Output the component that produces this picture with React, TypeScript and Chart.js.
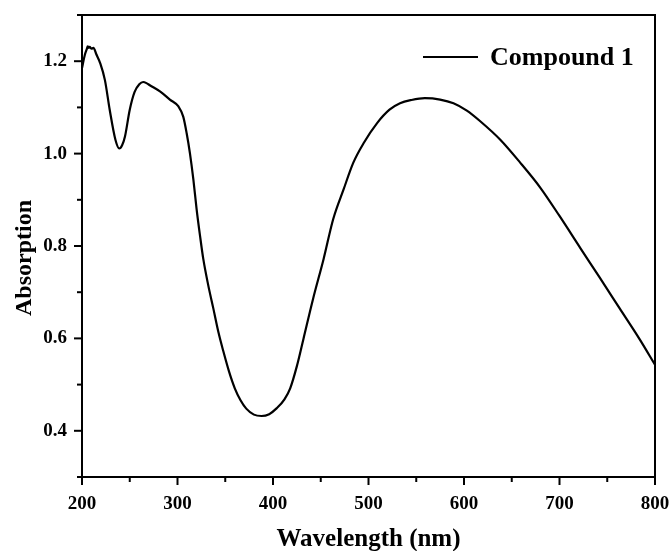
import { useEffect, useRef } from 'react';
import { Chart, registerables } from 'chart.js';

Chart.register(...registerables);

const seriesLabel = 'Compound 1';
const xTitle = 'Wavelength (nm)';
const yTitle = 'Absorption';

const wavelengths = [
  200, 203, 205, 206, 207, 208, 210, 212, 215, 219, 224, 229, 235, 239, 242, 245,
  250, 255, 260, 264, 268, 271, 282, 292, 301, 306, 309.6, 313, 316.6, 320, 323.6, 327,
  332, 337.5, 343, 348, 354, 360, 366, 372, 380, 388, 396, 404, 412, 418, 425, 432,
  442, 453, 463, 474, 484, 495, 509, 522, 533, 545, 559, 575, 589, 603, 617, 638,
  659, 680, 700, 722, 742, 763, 784, 800,
];
const absorption = [
  1.185, 1.214, 1.226, 1.232, 1.229, 1.231, 1.227, 1.229, 1.215, 1.196, 1.159, 1.095, 1.030, 1.011, 1.018, 1.037,
  1.095, 1.133, 1.150, 1.155, 1.152, 1.148, 1.134, 1.117, 1.102, 1.080, 1.044, 1.001, 0.944, 0.880, 0.822, 0.772,
  0.717, 0.665, 0.612, 0.572, 0.528, 0.492, 0.466, 0.448, 0.435, 0.432, 0.436, 0.449, 0.468, 0.492, 0.540, 0.600,
  0.686, 0.772, 0.858, 0.923, 0.980, 1.023, 1.066, 1.095, 1.109, 1.116, 1.120, 1.117, 1.109, 1.093, 1.070, 1.030,
  0.980, 0.926, 0.865, 0.795, 0.732, 0.665, 0.598, 0.543,
];

const xTickValues = [200, 250, 300, 350, 400, 450, 500, 550, 600, 650, 700, 750, 800];
const xTickLabels = ['200', '300', '400', '500', '600', '700', '800'];
const yTickValues = [0.3, 0.4, 0.5, 0.6, 0.7, 0.8, 0.9, 1.0, 1.1, 1.2, 1.3];
const yTickLabels = ['0.4', '0.6', '0.8', '1.0', '1.2'];

const FONT = '"Liberation Serif", "Times New Roman", Times, serif';

function seg(ctx: CanvasRenderingContext2D, x1: number, y1: number, x2: number, y2: number) {
  ctx.beginPath();
  ctx.moveTo(x1, y1);
  ctx.lineTo(x2, y2);
  ctx.stroke();
}

const decorPlugin = {
  id: 'decor',
  afterDraw(chart: any) {
    const { ctx } = chart;
    const xs = chart.scales.x;
    const ys = chart.scales.y;
    const left = Math.round(xs.getPixelForValue(200));
    const right = Math.round(xs.getPixelForValue(800));
    const top = Math.round(ys.getPixelForValue(1.3));
    const bottom = Math.round(ys.getPixelForValue(0.3));
    ctx.save();
    ctx.strokeStyle = '#000000';
    ctx.fillStyle = '#000000';
    ctx.lineWidth = 2;
    // frame
    seg(ctx, left - 1, top, right + 1, top);
    seg(ctx, right, top - 1, right, bottom + 1);
    seg(ctx, right + 1, bottom, left - 1, bottom);
    seg(ctx, left, bottom + 1, left, top - 1);
    // tick marks
    xs.ticks.forEach((t: any) => {
      const major = xTickLabels.includes(String(t.value));
      const px = xs.getPixelForValue(t.value);
      seg(ctx, px, bottom, px, bottom + (major ? 8 : 5));
    });
    ys.ticks.forEach((t: any) => {
      const major = yTickLabels.includes(Number(t.value).toFixed(1));
      const py = ys.getPixelForValue(t.value);
      seg(ctx, left, py, left - (major ? 8 : 5), py);
    });
    // axis titles
    ctx.textAlign = 'center';
    ctx.textBaseline = 'alphabetic';
    ctx.font = `bold 25px ${FONT}`;
    ctx.fillText(xTitle, (left + right) / 2, bottom + 69);
    ctx.font = `bold 24px ${FONT}`;
    ctx.save();
    ctx.translate(left - 51, (top + bottom) / 2 + 12);
    ctx.rotate(-Math.PI / 2);
    ctx.fillText(yTitle, 0, 0);
    ctx.restore();
    // legend
    const label = chart.data.datasets[0].label;
    seg(ctx, right - 232, top + 42, right - 177, top + 42);
    ctx.font = `bold 26px ${FONT}`;
    ctx.textAlign = 'left';
    ctx.fillText(label, right - 165, top + 50);
    ctx.restore();
  },
};

export default function App() {
  const canvasRef = useRef<HTMLCanvasElement | null>(null);

  useEffect(() => {
    document.body.style.margin = '0';
    document.body.style.overflow = 'hidden';
    if (!canvasRef.current) return;
    const chart = new Chart(canvasRef.current, {
      type: 'line',
      data: {
        datasets: [
          {
            label: seriesLabel,
            data: wavelengths.map((x, i) => ({ x, y: absorption[i] })),
            borderColor: '#000',
            borderWidth: 2.2,
            pointRadius: 0,
            fill: false,
            cubicInterpolationMode: 'monotone',
          },
        ],
      },
      options: {
        animation: false,
        responsive: false,
        maintainAspectRatio: false,
        layout: { padding: { top: 15, right: 16, left: 0, bottom: 0 } },
        plugins: { legend: { display: false }, tooltip: { enabled: false } },
        scales: {
          x: {
            type: 'linear',
            min: 200,
            max: 800,
            afterBuildTicks: (s: any) => {
              s.ticks = xTickValues.map((v) => ({ value: v }));
            },
            afterFit: (s: any) => {
              s.height = 74;
              s.paddingLeft = 0;
              s.paddingRight = 0;
            },
            grid: { display: false, drawTicks: false },
            border: { display: false },
            ticks: {
              autoSkip: false,
              maxRotation: 0,
              padding: 16,
              color: '#000',
              font: { family: FONT, size: 19, weight: 'bold' },
              callback: (v: any) => (xTickLabels.includes(String(v)) ? String(v) : ''),
            },
          },
          y: {
            type: 'linear',
            min: 0.3,
            max: 1.3,
            afterBuildTicks: (s: any) => {
              s.ticks = yTickValues.map((v) => ({ value: v }));
            },
            afterFit: (s: any) => {
              s.width = 82;
              s.paddingTop = 0;
              s.paddingBottom = 0;
            },
            grid: { display: false, drawTicks: false },
            border: { display: false },
            ticks: {
              autoSkip: false,
              padding: 15,
              color: '#000',
              font: { family: FONT, size: 19, weight: 'bold' },
              callback: (v: any) => {
                const s = Number(v).toFixed(1);
                return yTickLabels.includes(s) ? s : '';
              },
            },
          },
        },
      },
      plugins: [decorPlugin],
    } as any);
    return () => chart.destroy();
  }, []);

  return (
    <div style={{ position: 'absolute', left: 0, top: 0, width: 671, height: 551, background: '#fff', overflow: 'hidden' }}>
      <canvas
        ref={canvasRef}
        width={671}
        height={551}
        style={{ display: 'block', width: 671, height: 551 }}
      />
    </div>
  );
}
